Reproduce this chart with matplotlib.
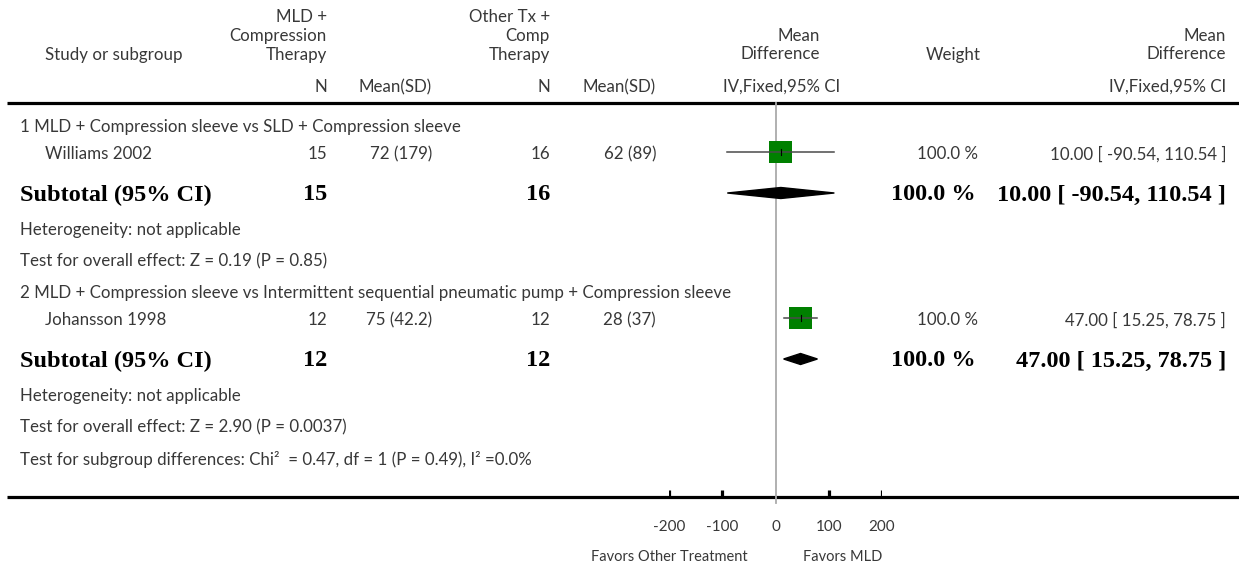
import matplotlib.pyplot as plt
from matplotlib.patches import Polygon

# subgroup / study data
groups = ["1 MLD + Compression sleeve vs SLD + Compression sleeve",
          "2 MLD + Compression sleeve vs Intermittent sequential pneumatic pump + Compression sleeve"]
studies = ["Williams 2002", "Johansson 1998"]
n_mld = [15, 12]
mean_mld = [72, 75]
sd_mld = [179, 42.2]
n_oth = [16, 12]
mean_oth = [62, 28]
sd_oth = [89, 37]
md = [10.00, 47.00]
ci_lo = [-90.54, 15.25]
ci_hi = [110.54, 78.75]
weight = [100.0, 100.0]
z_val = ["0.19", "2.90"]
p_val = ["0.85", "0.0037"]
subgroup_test = "Test for subgroup differences: Chi\u00b2  = 0.47, df = 1 (P = 0.49), I\u00b2 =0.0%"
ticks = [-200, -100, 0, 100, 200]

W, H = 1239, 567
fig = plt.figure(figsize=(W / 100, H / 100), dpi=100)
ax = fig.add_axes([0, 0, 1, 1])
ax.set_xlim(0, W)
ax.set_ylim(H, 0)
ax.axis("off")

# forest panel: -200..200 spans x 669..882 px
fx = fig.add_axes([669 / W, 0, 213 / W, 1])
fx.set_xlim(-200, 200)
fx.set_ylim(H, 0)
fx.axis("off")
fx.patch.set_alpha(0)

txt = "#383838"
reg = dict(family="Lato", fontsize=12.2, color=txt, va="center")
bold = dict(family="Liberation Serif", fontsize=17.5, color="black", fontweight="bold", va="center")
dy = 2  # small baseline nudge

# header
ax.text(45, 53 + dy, "Study or subgroup", ha="left", **reg)
ax.text(327, 34 + dy, "MLD +\nCompression\nTherapy", ha="right", **reg)
ax.text(550, 34 + dy, "Other Tx +\nComp\nTherapy", ha="right", **reg)
ax.text(820, 43 + dy, "Mean\nDifference", ha="right", **reg)
ax.text(953, 53 + dy, "Weight", ha="center", **reg)
ax.text(1226, 43 + dy, "Mean\nDifference", ha="right", **reg)
ax.text(327, 85 + dy, "N", ha="right", **reg)
ax.text(432, 85 + dy, "Mean(SD)", ha="right", **reg)
ax.text(550, 85 + dy, "N", ha="right", **reg)
ax.text(656, 85 + dy, "Mean(SD)", ha="right", **reg)
ax.text(840, 85 + dy, "IV,Fixed,95% CI", ha="right", **reg)
ax.text(1226, 85 + dy, "IV,Fixed,95% CI", ha="right", **reg)
ax.plot([7, W], [103, 103], color="black", lw=2.3, solid_capstyle="butt")

# null line
fx.plot([0, 0], [103, 503], color="#aaaaaa", lw=1.3, zorder=1)

y0 = 125
step = 166
for i in range(len(groups)):
    y = y0 + i * step
    ax.text(20, y + dy, groups[i], ha="left", **reg)
    ys = y + 27
    ax.text(45, ys + dy, studies[i], ha="left", **reg)
    ax.text(327, ys + dy, str(n_mld[i]), ha="right", **reg)
    ax.text(432, ys + dy, f"{mean_mld[i]:g} ({sd_mld[i]:g})", ha="right", **reg)
    ax.text(550, ys + dy, str(n_oth[i]), ha="right", **reg)
    ax.text(656, ys + dy, f"{mean_oth[i]:g} ({sd_oth[i]:g})", ha="right", **reg)
    ax.text(978, ys + dy, f"{weight[i]:.1f} %", ha="right", **reg)
    ax.text(1226, ys + dy, f"{md[i]:.2f} [ {ci_lo[i]:.2f}, {ci_hi[i]:.2f} ]", ha="right", **reg)
    fx.scatter([md[i]], [ys], marker="s", s=16.5 ** 2 * weight[i] / 100,
               color="#008000", edgecolors="none", zorder=2)
    fx.plot([ci_lo[i], ci_hi[i]], [ys, ys], color="#4a4a4a", lw=1.1, zorder=3)
    fx.plot([md[i], md[i]], [ys - 3, ys + 3], color="black", lw=0.8, zorder=4)

    yt = y + 68 + dy
    ax.text(20, yt, "Subtotal (95% CI)", ha="left", **bold)
    ax.text(327, yt, str(n_mld[i]), ha="right", **bold)
    ax.text(550, yt, str(n_oth[i]), ha="right", **bold)
    ax.text(976, yt, f"{weight[i]:.1f} %", ha="right", **bold)
    ax.text(1226, yt, f"{md[i]:.2f} [ {ci_lo[i]:.2f}, {ci_hi[i]:.2f} ]", ha="right", **bold)
    yd = y + 68
    fx.add_patch(Polygon([(ci_lo[i], yd), (md[i], yd - 5.5), (ci_hi[i], yd), (md[i], yd + 5.5)],
                         closed=True, color="black", zorder=3))

    ax.text(20, y + 103 + dy, "Heterogeneity: not applicable", ha="left", **reg)
    ax.text(20, y + 134 + dy, f"Test for overall effect: Z = {z_val[i]} (P = {p_val[i]})", ha="left", **reg)

ax.text(20, 458 + dy, subgroup_test, ha="left", **reg)

# bottom axis
ax.plot([7, W], [497, 497], color="black", lw=2.3, solid_capstyle="butt")
for t in ticks:
    if t != 0:
        fx.plot([t, t], [497, 490], color="black", lw=2.3, solid_capstyle="butt")
    fx.text(t, 525 + dy, f"{t}", ha="center", **{**reg, "fontsize": 11})
ax.text(748, 555 + dy, "Favors Other Treatment", ha="right", **{**reg, "fontsize": 10.5})
ax.text(803, 555 + dy, "Favors MLD", ha="left", **{**reg, "fontsize": 10.5})

fig.savefig("out.png", dpi=100)
